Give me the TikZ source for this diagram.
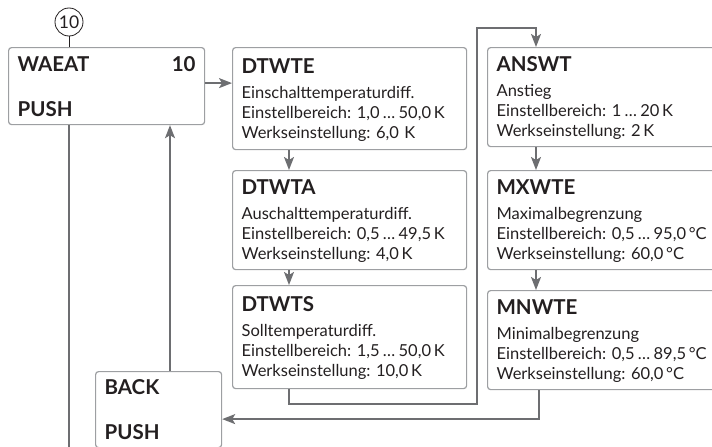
\documentclass[tikz,border=0pt]{standalone}
\usepackage{fontspec}
\setmainfont{Lato}
\usetikzlibrary{arrows.meta, positioning}

\definecolor{framegray}{HTML}{9D9FA2}
\definecolor{linegray}{HTML}{6D6E71}
\definecolor{textblack}{HTML}{231F20}
\newcommand{\boxhead}[1]{{\fontsize{20.5}{20}\selectfont\bfseries\rule{0pt}{24pt}#1}}
\newcommand{\boxfoot}{\rule[-10pt]{0pt}{10pt}}
\newcommand{\upto}{\hspace{0.2em}…\hspace{0.2em}}

\begin{document}
\frenchspacing
\begin{tikzpicture}[x=1pt, y=-1pt,
  every node/.style={font=\fontsize{16.5}{20}\selectfont, text=textblack},
  parbox/.style={rectangle, draw=framegray, line width=1.2pt, rounded corners=3pt, anchor=north west, text width=216pt, minimum width=234pt, inner xsep=9pt, inner ysep=0pt, align=left},
  keybox/.style={parbox, font=\fontsize{20.5}{20}\selectfont\bfseries},
  conn/.style={draw=linegray, line width=1.8pt},
  arr/.style={conn, -{Stealth[length=13pt, width=10pt, inset=3pt]}},
]
\useasboundingbox (0,0) rectangle (712,447);

% Menu entry
\node[keybox, text width=178pt, minimum width=196pt, minimum height=77pt] (waeat) at (8,47) {WAEAT\hspace{\stretch{1}}10\\[25pt]PUSH};
\node[circle, draw=textblack, line width=0.8pt, minimum size=28pt, inner sep=0pt, font=\fontsize{17.5}{20}\selectfont] (num) at (69,22) {10};
\node[keybox, text width=108pt, minimum width=126pt, minimum height=76pt] (back) at (95,371) {BACK\\[25pt]PUSH};

% Left column
\node[parbox, minimum height=102pt] (dtwte) at (232,47) {\boxhead{DTWTE}\\[5pt]Einschalttemperaturdiff.\\Einstellbereich: 1,0\upto 50,0\,K\\Werkseinstellung: 6,0 K\boxfoot};
\node[parbox, minimum height=97pt] (dtwta) at (232,170) {\boxhead{DTWTA}\\[5pt]Auschalttemperaturdiff.\\Einstellbereich: 0,5\upto 49,5\,K\\Werkseinstellung: 4,0\,K\boxfoot};
\node[parbox, minimum height=103pt] (dtwts) at (232,285) {\boxhead{DTWTS}\\[5pt]Solltemperaturdiff.\\Einstellbereich: 1,5\upto 50,0\,K\\Werkseinstellung: 10,0\,K\boxfoot};

% Right column (cut off by the page edge)
\node[parbox, text width=240pt, minimum width=258pt, minimum height=98pt, inner xsep=8pt] (answt) at (487,47) {\boxhead{ANSWT}\\[5pt]Anstieg\\Einstellbereich: 1\upto 20\,K\\Werkseinstellung: 2\,K\boxfoot};
\node[parbox, text width=240pt, minimum width=258pt, minimum height=98pt, inner xsep=8pt] (mxwte) at (487,170) {\boxhead{MXWTE}\\[5pt]Maximalbegrenzung\\Einstellbereich: 0,5\upto 95,0\,°C\\Werkseinstellung: 60,0\,°C\boxfoot};
\node[parbox, text width=240pt, minimum width=258pt, minimum height=98pt, inner xsep=8pt] (mnwte) at (487,290) {\boxhead{MNWTE}\\[5pt]Minimalbegrenzung\\Einstellbereich: 0,5\upto 89,5\,°C\\Werkseinstellung: 60,0\,°C\boxfoot};

% Corners of the loop
\coordinate (loopa) at (477,404);
\coordinate (loopb) at (477,28);
\coordinate (exit) at (69,447);

% Arrows
\draw[textblack, line width=0.8pt] (num) -- (num |- waeat.north);
\draw[arr] ([yshift=3pt]waeat.east) -- ([yshift=3pt]waeat.east -| dtwte.west);
\draw[arr] ([xshift=57pt]dtwte.south west) -- ([xshift=57pt]dtwta.north west);
\draw[arr] ([xshift=57pt]dtwta.south west) -- ([xshift=57pt]dtwts.north west);
\draw[arr] ([xshift=57pt]dtwts.south west) |- (loopa) -- (loopb) -| ([xshift=49pt]answt.north west);
\draw[arr] ([xshift=49pt]answt.south west) -- ([xshift=49pt]mxwte.north west);
\draw[arr] ([xshift=49pt]mxwte.south west) -- ([xshift=49pt]mnwte.north west);
\draw[arr] ([xshift=52pt]mnwte.south west) |- ([yshift=-9.5pt]back.east);
\draw[arr] ([xshift=75pt]back.north west) -- ([xshift=75pt]back.north west |- waeat.south);
\draw[conn] (waeat.south -| exit) -- (exit);
\end{tikzpicture}
\end{document}
